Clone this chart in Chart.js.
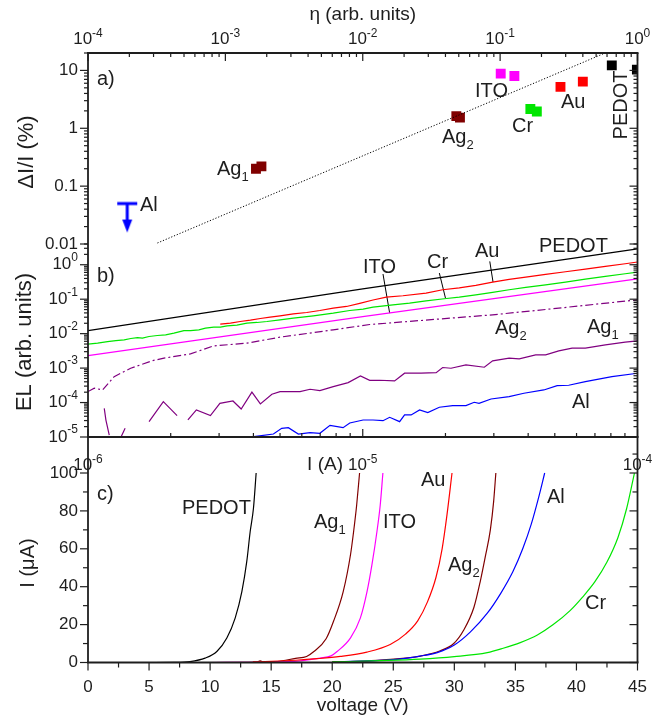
<!DOCTYPE html>
<html>
<head>
<meta charset="utf-8">
<script src="https://cdn.jsdelivr.net/npm/chart.js@4.4.1/dist/chart.umd.min.js"></script>
<style>
  body { margin: 0; background: #fff; }
  canvas { position: absolute; left: 0; top: 0; }
</style>
</head>
<body>
<canvas id="panel-c" width="669" height="719"></canvas>
<canvas id="panel-b" width="669" height="719"></canvas>
<canvas id="panel-a" width="669" height="719"></canvas>
<script>
// ---------- a) dI/I (%) vs eta ----------
const etaAg1 = [0.00167, 0.00183], dAg1 = [0.20, 0.22];
const etaAg2 = [0.048, 0.051], dAg2 = [1.62, 1.53];
const etaIto = [0.101, 0.127], dIto = [8.8, 8.0];
const etaCr = [0.166, 0.185], dCr = [2.15, 1.95];
const etaAu = [0.275, 0.40], dAu = [5.2, 6.4];
const etaPedot = [0.65, 0.99], dPedot = [12.2, 10.3];
const etaAl = [1.93e-4], dAl = [0.05];        // upper limit
const etaFit = [3.2e-4, 0.61], dFit = [0.0104, 21];

// ---------- b) EL vs I (A) ----------
const iPedotB = [1e-6, 1e-5, 1e-4];
const elPedotB = [0.0123, 0.2, 2.9];
const iItoB = [1e-6, 1e-5, 1e-4];
const elItoB = [0.0023, 0.031, 0.39];
const iAuB = [3.03e-6, 3.3e-6, 3.58e-6, 3.9e-6, 4.24e-6, 4.6e-6, 5.0e-6, 5.59e-6, 6.25e-6, 6.98e-6, 7.81e-6, 8.73e-6, 9.75e-6,
  1.09e-5, 1.218e-5, 1.4e-5, 1.7e-5, 1.954e-5, 2.245e-5, 2.58e-5, 2.97e-5, 3.41e-5, 3.92e-5, 4.63e-5, 5.47e-5, 6.46e-5, 7.64e-5, 9.02e-5, 1e-4];
const elAuB = [0.0188, 0.0201, 0.0225, 0.0246, 0.0275, 0.0301, 0.0329, 0.0376, 0.0411, 0.047, 0.055, 0.0615, 0.076,
  0.095, 0.115, 0.126, 0.15, 0.188, 0.214, 0.251, 0.313, 0.375, 0.438, 0.524, 0.626, 0.748, 0.895, 1.07, 1.2];
const iCrB = [1.0e-6, 1.084e-6, 1.178e-6, 1.263e-6, 1.354e-6, 1.432e-6, 1.514e-6, 1.578e-6, 1.668e-6, 1.788e-6, 1.917e-6, 2.055e-6,
  2.234e-6, 2.362e-6, 2.532e-6, 2.677e-6, 2.869e-6, 3.033e-6, 3.21e-6, 3.485e-6, 3.79e-6, 4.12e-6, 4.48e-6, 5.0e-6, 5.59e-6,
  6.61e-6, 7.81e-6, 8.97e-6, 1.003e-5, 1.09e-5, 1.288e-5, 1.48e-5, 1.7e-5, 1.98e-5, 2.245e-5, 2.58e-5, 2.97e-5, 3.41e-5,
  3.92e-5, 4.63e-5, 5.47e-5, 6.46e-5, 7.64e-5, 9.02e-5, 1e-4];
const elCrB = [0.00494, 0.00528, 0.0059, 0.00631, 0.0066, 0.00722, 0.00771, 0.00738, 0.00826, 0.00883, 0.00923, 0.0103,
  0.0123, 0.0123, 0.0129, 0.0144, 0.0154, 0.0154, 0.0169, 0.0176, 0.0201, 0.0211, 0.0225, 0.0252, 0.0282,
  0.0329, 0.0394, 0.047, 0.0514, 0.0588, 0.0687, 0.0769, 0.0899, 0.103, 0.115, 0.134, 0.157, 0.188,
  0.219, 0.262, 0.313, 0.383, 0.458, 0.547, 0.612];
const iAg2B = [1.0e-6, 1.054e-6, 1.13e-6, 1.245e-6, 1.43e-6, 1.72e-6, 1.89e-6, 2.36e-6, 2.87e-6, 3.79e-6, 5.0e-6, 7.8e-6,
  1.06e-5, 2.97e-5, 5.17e-5, 1e-4];
const elAg2B = [2.08e-4, 2.6e-4, 2.32e-4, 5.66e-4, 9.9e-4, 1.65e-3, 1.94e-3, 2.59e-3, 4.42e-3, 5.3e-3, 7.9e-3, 1.29e-2,
  1.84e-2, 3.52e-2, 5.5e-2, 9.6e-2];
// null = gap in the trace
const iAg1B = [1.146e-6, 1.162e-6, 1.195e-6, 1.25e-6, 1.317e-6, 1.365e-6, 1.5e-6, 1.668e-6, 1.88e-6, 2.11e-6, 2.2e-6,
  2.31e-6, 2.48e-6, 2.79e-6, 3.02e-6, 3.37e-6, 3.61e-6, 3.95e-6, 4.24e-6, 4.67e-6, 5.0e-6, 5.91e-6, 6.43e-6, 6.98e-6,
  7.81e-6, 8.85e-6, 9.81e-6, 1.06e-5, 1.152e-5, 1.306e-5, 1.42e-5, 1.63e-5, 1.85e-5, 1.954e-5, 2.095e-5, 2.375e-5,
  2.77e-5, 2.97e-5, 3.41e-5, 3.71e-5, 4.26e-5, 4.63e-5, 5.17e-5, 5.78e-5, 6.46e-5, 7.64e-5, 9.02e-5, 1e-4];
const elAg1B = [6.8e-5, 3.1e-5, 1.14e-5, null, 9.8e-6, 1.8e-5, null, 2.79e-5, 1.06e-4, 4.17e-5, null,
  3.12e-5, 6.1e-5, 4.17e-5, 9.5e-5, 1.11e-4, 6.5e-5, 2.0e-4, 9.1e-5, 1.74e-4, 2.08e-4, 2.08e-4, 2.43e-4, 2.22e-4,
  2.9e-4, 3.8e-4, 5.9e-4, 4.4e-4, 4.44e-4, 4.24e-4, 7.1e-4, 7.1e-4, 7.4e-4, 1.04e-3, 9.9e-4, 1.24e-3,
  1.06e-3, 1.62e-3, 1.94e-3, 1.85e-3, 2.42e-3, 2.42e-3, 3.16e-3, 3.79e-3, 3.79e-3, 4.72e-3, 5.65e-3, 6.18e-3];
const iAlB = [4.01e-6, 4.73e-6, 5.07e-6, 5.36e-6, 5.83e-6, 6.43e-6, 6.98e-6, 7.6e-6, 8.48e-6, 8.97e-6, 1.003e-5, 1.09e-5,
  1.185e-5, 1.253e-5, 1.362e-5, 1.42e-5, 1.5e-5, 1.61e-5, 1.725e-5, 1.9e-5, 2.125e-5, 2.375e-5, 2.545e-5, 2.65e-5,
  2.93e-5, 3.41e-5, 3.86e-5, 4.56e-5, 5.1e-5, 5.62e-5, 6.46e-5, 8.07e-5, 1e-4];
const elAlB = [1.02e-5, 1.22e-5, 1.79e-5, 1.87e-5, 1.22e-5, 1.34e-5, 1.28e-5, 2.18e-5, 1.87e-5, 2.55e-5, 3.12e-5, 3.12e-5,
  2.98e-5, 3.73e-5, 2.79e-5, 4.36e-5, 4.36e-5, 6.1e-5, 5.1e-5, 7.29e-5, 8.15e-5, 8.15e-5, 1.02e-4, 9.5e-5,
  1.27e-4, 1.49e-4, 1.86e-4, 2.32e-4, 3.1e-4, 3.18e-4, 4.06e-4, 5.67e-4, 7.1e-4];
// leader lines from the labels to the curves
const iLeadIto = [1.185e-5, 1.253e-5], elLeadIto = [0.537, 0.0394];
const iLeadCr = [1.9e-5, 2.0e-5], elLeadCr = [0.574, 0.108];
const iLeadAu = [2.9e-5, 2.98e-5], elLeadAu = [1.25, 0.314];

// ---------- c) I (uA) vs voltage ----------
const vPedot = [4, 7, 8.36, 9.59, 10.55, 11.37, 12.05, 12.6, 13.0, 13.28, 13.55, 13.77];
const cPedot = [0, 0.1, 0.5, 2.3, 5.8, 12.9, 23.4, 37.4, 53.2, 69, 81.4, 100];
const vAg1 = [10, 13.8, 14.1, 14.4, 15.5, 17, 17.9, 18.5, 19.5, 20.1, 20.9, 21.5, 21.75, 22.0, 22.24];
const cAg1 = [0, 0.2, 0.9, 0.2, 0.5, 2.2, 3.2, 5.8, 12.5, 21.6, 37.4, 57, 69, 83, 100];
const vIto = [10, 15, 17.4, 19.0, 19.9, 20.4, 21.5, 22.3, 22.85, 23.25, 23.66, 23.93, 24.15];
const cIto = [0, 0.2, 0.9, 2.3, 3.5, 5.8, 13, 23.4, 37.4, 51.5, 69, 83, 100];
const vAu = [13.5, 15, 17, 18.75, 20.66, 22.84, 24.75, 26.0, 27.0, 27.8, 28.5, 29.0, 29.4, 29.81];
const cAu = [0.3, 0.6, 1.2, 2.0, 3.2, 5.5, 9.5, 15, 22, 32, 45, 60, 78, 100];
const vAg2 = [20, 22, 24.2, 27.2, 28.85, 29.95, 30.76, 31.6, 32.13, 32.54, 32.95, 33.22, 33.4];
const cAg2 = [0.3, 0.6, 1.4, 3.4, 6.2, 10, 17, 29, 43, 56, 70, 85, 100];
const vAl = [21, 25, 27.2, 28.6, 30, 31.3, 32.7, 33.8, 34.8, 35.6, 36.3, 36.9, 37.4];
const cAl = [0.5, 1.5, 3.4, 5.2, 9.2, 16, 26, 36.5, 48, 60, 73, 87, 100];
const vCr = [20, 24, 27.2, 30, 32.7, 34, 35.4, 36.8, 38.1, 39.5, 40.5, 41.5, 42.5, 43.4, 44.1, 44.75];
const cCr = [0.3, 1.0, 1.8, 3.1, 5.2, 7.5, 10.5, 14.5, 20, 27.5, 34.5, 42.5, 53, 66, 81, 100];

// ---------- layout / style ----------
const W = 669, H = 719, LEFT = 88, RIGHT = 637.5;
const FF = '"Liberation Sans", Arial, sans-serif';
const INK = '#1e1e1e';
const TICK = 17, SUP = 12, TITLE = 19, NOTE = 20;
const BLACK = '#000000', RED = '#ff0000', GREEN = '#00e600', MAGENTA = '#ff00ff',
  MAROON = '#800000', PURPLE = '#800080', BLUE = '#0000ff';

function pts(xs, ys) {
  return xs.map((x, i) => ({ x: x, y: ys[i] }));
}
function curve(xs, ys, color, extra) {
  return Object.assign({ data: pts(xs, ys), showLine: true, borderColor: color, borderWidth: 1.2,
    pointRadius: 0, spanGaps: false, tension: 0 }, extra || {});
}
// smooth I-V curve (monotone spline through the read points)
function smooth(xs, ys, color) {
  return curve(xs, ys, color, { cubicInterpolationMode: 'monotone' });
}
function squares(xs, ys, color) {
  return { data: pts(xs, ys), pointStyle: 'rect', pointRadius: 7, backgroundColor: color,
    borderWidth: 0, showLine: false };
}
function opts(top, bottom, xs, ys) {
  return {
    responsive: false, animation: false, events: [], devicePixelRatio: 1,
    layout: { padding: { left: LEFT, right: W - RIGHT, top: top, bottom: H - bottom } },
    plugins: { legend: { display: false }, tooltip: { enabled: false } },
    scales: { x: Object.assign({ display: false }, xs), y: Object.assign({ display: false }, ys) }
  };
}

function logTicks(lo, hi) {
  const major = [], minor = [];
  for (let e = Math.floor(Math.log10(lo)); e <= Math.ceil(Math.log10(hi)); e++) {
    for (let m = 1; m < 10; m++) {
      const v = m * Math.pow(10, e);
      if (v < lo * 0.999 || v > hi * 1.001) continue;
      (m === 1 ? major : minor).push(v);
    }
  }
  return { major, minor };
}
function linTicks(lo, hi, step) {
  const out = [];
  for (let v = lo; v <= hi + 1e-9; v += step) out.push(v);
  return out;
}
function line(ctx, x1, y1, x2, y2) {
  ctx.beginPath(); ctx.moveTo(x1, y1); ctx.lineTo(x2, y2); ctx.stroke();
}
function ticks(ctx, scale, vals, edge, len) {
  vals.forEach(v => {
    const p = scale.getPixelForValue(v);
    if (scale.isHorizontal()) line(ctx, p, edge, p, edge + len);
    else line(ctx, edge, p, edge + len, p);
  });
}
function text(ctx, s, x, y, size, align, base) {
  ctx.font = size + 'px ' + FF;
  ctx.textAlign = align || 'left';
  ctx.textBaseline = base || 'alphabetic';
  ctx.fillText(s, x, y);
}
function pow10(ctx, exp, x, y, align, base) {
  ctx.font = TICK + 'px ' + FF; const wb = ctx.measureText('10').width;
  ctx.font = SUP + 'px ' + FF; const we = ctx.measureText(String(exp)).width;
  const x0 = align === 'center' ? x - (wb + we) / 2 : align === 'right' ? x - wb - we : x;
  text(ctx, '10', x0, y, TICK, 'left', base);
  text(ctx, String(exp), x0 + wb, y - 7, SUP, 'left', base);
}
function sub(ctx, s, n, x, y) {
  text(ctx, s, x, y, NOTE, 'left');
  const w = ctx.measureText(s).width;
  text(ctx, n, x + w, y + 6, 13, 'left');
}
function vtext(ctx, s, cx, cy, size) {
  ctx.save(); ctx.translate(cx, cy); ctx.rotate(-Math.PI / 2);
  text(ctx, s, 0, 0, size, 'center', 'middle');
  ctx.restore();
}
function frame(ctx, a, top, bottom) {
  ctx.strokeStyle = INK; ctx.lineWidth = 1.8;
  if (top) line(ctx, a.left - 1, a.top, a.right + 1, a.top);
  if (bottom) line(ctx, a.left - 1, a.bottom, a.right + 1, a.bottom);
  line(ctx, a.left, a.top, a.left, a.bottom);
  line(ctx, a.right, a.top, a.right, a.bottom);
  ctx.lineWidth = 1.2;
}

// marker for the Al upper limit: bar with a down arrow
function limitMarker(color) {
  const c = document.createElement('canvas');
  c.width = 24; c.height = 64;
  const g = c.getContext('2d');
  g.strokeStyle = color; g.fillStyle = color; g.lineWidth = 3;
  g.beginPath(); g.moveTo(2, 32); g.lineTo(22, 32); g.moveTo(12, 32); g.lineTo(12, 50); g.stroke();
  g.beginPath(); g.moveTo(7, 48); g.lineTo(17, 48); g.lineTo(12, 61); g.closePath(); g.fill();
  return c;
}

// ---------- panel c ----------
const frameC = {
  id: 'frameC',
  afterDraw(chart) {
    const { ctx, chartArea: a, scales: { x, y } } = chart;
    ctx.save();
    frame(ctx, a, false, true);
    ticks(ctx, x, linTicks(0, 45, 5), a.bottom, 8);
    ticks(ctx, x, linTicks(2.5, 42.5, 5), a.bottom, 5);
    ticks(ctx, y, linTicks(0, 100, 20), a.left, -8);
    ticks(ctx, y, linTicks(10, 90, 20), a.left, -5);
    ticks(ctx, y, linTicks(0, 100, 20), a.right, -8);
    ticks(ctx, y, linTicks(10, 110, 20), a.right, -5);
    ctx.fillStyle = INK;
    linTicks(0, 45, 5).forEach(v => text(ctx, String(v), x.getPixelForValue(v), 692, TICK, 'center'));
    linTicks(0, 100, 20).forEach(v => text(ctx, String(v), 78, y.getPixelForValue(v), TICK, 'right', 'middle'));
    text(ctx, 'voltage (V)', (a.left + a.right) / 2, 711, TITLE, 'center');
    vtext(ctx, 'I (\u03bcA)', 28, 563, 20);
    text(ctx, 'c)', 97, 500, NOTE);
    text(ctx, 'PEDOT', 182, 514, NOTE);
    sub(ctx, 'Ag', '1', 314, 528);
    text(ctx, 'ITO', 383, 528, NOTE);
    text(ctx, 'Au', 421, 486, NOTE);
    sub(ctx, 'Ag', '2', 448, 571);
    text(ctx, 'Al', 547, 503, NOTE);
    text(ctx, 'Cr', 585, 609, NOTE);
    ctx.restore();
  }
};
new Chart(document.getElementById('panel-c'), {
  type: 'scatter',
  data: {
    datasets: [
      smooth(vCr, cCr, GREEN),
      smooth(vAl, cAl, BLUE),
      smooth(vAg2, cAg2, MAROON),
      smooth(vAu, cAu, RED),
      smooth(vIto, cIto, MAGENTA),
      smooth(vAg1, cAg1, MAROON),
      smooth(vPedot, cPedot, BLACK)
    ]
  },
  options: opts(437, 662.5, { type: 'linear', min: 0, max: 45 }, { type: 'linear', min: 0, max: 119 }),
  plugins: [frameC]
});

// ---------- panel b ----------
const frameB = {
  id: 'frameB',
  afterDraw(chart) {
    const { ctx, chartArea: a, scales: { x, y } } = chart;
    ctx.save();
    frame(ctx, a, false, true);
    const xt = logTicks(1e-6, 1e-4), yt = logTicks(1e-5, 4);
    ticks(ctx, x, xt.major, a.bottom, -8);
    ticks(ctx, x, xt.minor, a.bottom, -4);
    [a.left, a.right].forEach(edge => {
      ticks(ctx, y, yt.major, edge, -8);
      ticks(ctx, y, yt.minor, edge, -4);
    });
    ctx.fillStyle = INK;
    [-6, -5, -4].forEach(e => pow10(ctx, e, x.getPixelForValue(Math.pow(10, e)), 470, 'center'));
    [-5, -4, -3, -2, -1, 0].forEach(e => pow10(ctx, e, 78, y.getPixelForValue(Math.pow(10, e)), 'right', 'middle'));
    text(ctx, 'I (A)', 343, 470, TITLE, 'right');
    vtext(ctx, 'EL (arb. units)', 25, 342, 22);
    text(ctx, 'b)', 97, 282, NOTE);
    text(ctx, 'ITO', 363, 273, NOTE);
    text(ctx, 'Cr', 427, 268, NOTE);
    text(ctx, 'Au', 475, 257, NOTE);
    text(ctx, 'PEDOT', 539, 252, NOTE);
    sub(ctx, 'Ag', '2', 495, 334);
    sub(ctx, 'Ag', '1', 587, 333);
    text(ctx, 'Al', 572, 408, NOTE);
    ctx.restore();
  }
};
new Chart(document.getElementById('panel-b'), {
  type: 'scatter',
  data: {
    datasets: [
      curve(iAlB, elAlB, BLUE),
      curve(iAg1B, elAg1B, PURPLE),
      curve(iAg2B, elAg2B, PURPLE, { borderDash: [8, 3, 2, 3] }),
      curve(iItoB, elItoB, MAGENTA),
      curve(iCrB, elCrB, GREEN),
      curve(iAuB, elAuB, RED),
      curve(iPedotB, elPedotB, BLACK),
      curve(iLeadIto, elLeadIto, BLACK, { borderWidth: 1 }),
      curve(iLeadCr, elLeadCr, BLACK, { borderWidth: 1 }),
      curve(iLeadAu, elLeadAu, BLACK, { borderWidth: 1 })
    ]
  },
  options: opts(244, 437, { type: 'logarithmic', min: 1e-6, max: 1e-4 }, { type: 'logarithmic', min: 1e-5, max: 4 }),
  plugins: [frameB]
});

// ---------- panel a ----------
const frameA = {
  id: 'frameA',
  afterDraw(chart) {
    const { ctx, chartArea: a, scales: { x, y } } = chart;
    ctx.save();
    frame(ctx, a, true, false);
    const xt = logTicks(1e-4, 1), yt = logTicks(0.01, 20);
    ticks(ctx, x, xt.major, a.top, 8);
    ticks(ctx, x, xt.minor, a.top, 4);
    [a.left, a.right].forEach(edge => {
      ticks(ctx, y, yt.major, edge, -8);
      ticks(ctx, y, yt.minor, edge, -4);
    });
    ctx.fillStyle = INK;
    [-4, -3, -2, -1, 0].forEach(e => pow10(ctx, e, x.getPixelForValue(Math.pow(10, e)), 44, 'center'));
    ['0.01', '0.1', '1', '10'].forEach(s => text(ctx, s, 78, y.getPixelForValue(Number(s)), TICK, 'right', 'middle'));
    text(ctx, '\u03b7 (arb. units)', (a.left + a.right) / 2, 20, TITLE, 'center');
    vtext(ctx, '\u0394I/I (%)', 27, 152, 22);
    text(ctx, 'a)', 97, 85, NOTE);
    sub(ctx, 'Ag', '1', 217, 175);
    text(ctx, 'Al', 140, 211, NOTE);
    text(ctx, 'ITO', 475, 97, NOTE);
    text(ctx, 'Au', 561, 108, NOTE);
    text(ctx, 'Cr', 512, 132, NOTE);
    sub(ctx, 'Ag', '2', 442, 143);
    vtext(ctx, 'PEDOT', 621, 105, NOTE);
    ctx.restore();
  }
};
new Chart(document.getElementById('panel-a'), {
  type: 'scatter',
  data: {
    datasets: [
      curve(etaFit, dFit, BLACK, { borderWidth: 1, borderDash: [1.2, 1.8] }),
      squares(etaAg1, dAg1, MAROON),
      squares(etaAg2, dAg2, MAROON),
      squares(etaIto, dIto, MAGENTA),
      squares(etaCr, dCr, GREEN),
      squares(etaAu, dAu, RED),
      squares(etaPedot, dPedot, BLACK),
      { data: pts(etaAl, dAl), pointStyle: limitMarker(BLUE), showLine: false }
    ]
  },
  options: opts(53, 244, { type: 'logarithmic', min: 1e-4, max: 1 }, { type: 'logarithmic', min: 0.01, max: 20 }),
  plugins: [frameA]
});
</script>
</body>
</html>
